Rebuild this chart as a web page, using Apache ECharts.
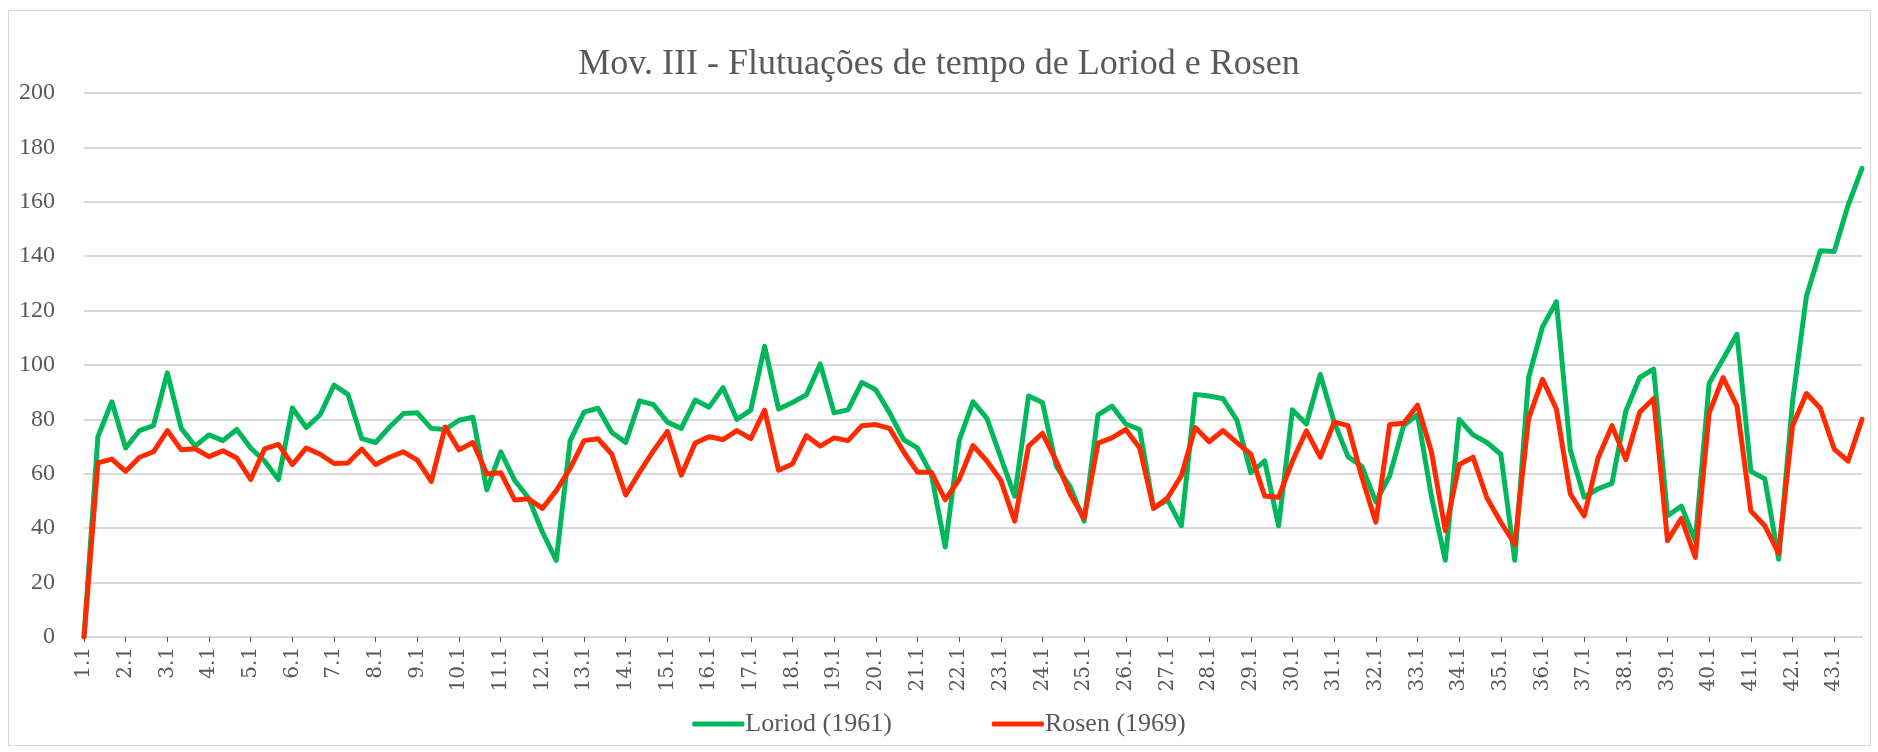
<!DOCTYPE html>
<html>
<head>
<meta charset="utf-8">
<script src="https://cdn.jsdelivr.net/npm/echarts@6/dist/echarts.min.js"></script>
<style>
  html, body { margin: 0; padding: 0; background: #fff; }
  #chart { width: 1878px; height: 752px; }
</style>
</head>
<body>
<div id="chart"></div>
<script>
// compassos 1..43, três tempos cada (1.1, 1.2, 1.3, 2.1 ...)
const measureCount = 43
const beatsPerMeasure = 3
const categories = []
for (let m = 1; m <= measureCount; m++) {
  for (let b = 1; b <= beatsPerMeasure; b++) categories.push(m + '.' + b)
}

const yTicks = [0, 20, 40, 60, 80, 100, 120, 140, 160, 180, 200]

const loriod = [
  0, 73.6, 86.5, 69.5, 75.9, 77.7, 97.1, 76.7, 70.2, 74.3,
  72.2, 76.3, 69.5, 64.7, 57.9, 84.2, 77.0, 81.7, 92.6, 89.2,
  72.9, 71.5, 77.2, 82.2, 82.4, 76.7, 76.3, 79.7, 80.8, 54.1,
  68.1, 57.6, 51.1, 38.6, 28.2, 72.2, 82.7, 84.1, 75.2, 71.5,
  86.8, 85.4, 79.0, 76.7, 87.1, 84.5, 91.7, 80.0, 83.4, 106.9,
  83.8, 86.2, 89.0, 100.4, 82.4, 83.5, 93.6, 90.9, 82.4, 72.6,
  69.5, 59.9, 33.1, 72.2, 86.5, 80.4, 66.0, 51.8, 88.6, 86.2,
  62.7, 55.2, 42.6, 81.7, 84.9, 78.3, 76.3, 47.3, 50.4, 40.9,
  89.2, 88.6, 87.6, 79.7, 60.4, 64.7, 40.9, 83.5, 78.3, 96.5,
  79.0, 66.3, 62.7, 49.7, 59.3, 77.7, 81.7, 51.8, 28.2, 80.0,
  74.3, 71.5, 67.2, 28.2, 95.4, 114.0, 123.3, 68.8, 51.4, 54.5,
  56.5, 83.1, 95.4, 98.5, 44.6, 48.1, 35.4, 93.3, 102.2, 111.3,
  60.9, 58.2, 28.6, 86.5, 125.3, 142.0, 141.7, 158.7, 172.3
]

const rosen = [
  0, 64.0, 65.4, 60.9, 66.1, 68.1, 75.9, 68.8, 69.2, 66.3,
  68.5, 65.8, 57.9, 69.2, 70.8, 63.4, 69.5, 67.2, 63.8, 64.0,
  69.1, 63.4, 66.1, 68.1, 65.0, 57.2, 77.2, 68.8, 71.5, 59.9,
  60.4, 50.4, 50.8, 47.3, 53.8, 62.0, 72.2, 72.9, 67.2, 52.2,
  60.6, 68.5, 75.6, 59.5, 71.3, 73.6, 72.6, 75.9, 72.9, 83.4,
  61.3, 63.6, 74.0, 70.2, 73.2, 72.2, 77.7, 78.1, 76.7, 68.1,
  60.6, 60.6, 50.4, 57.9, 70.4, 64.7, 57.6, 42.6, 70.2, 74.9,
  64.7, 52.5, 43.6, 71.3, 73.2, 76.3, 69.5, 47.3, 51.1, 59.3,
  77.0, 71.8, 75.9, 71.5, 67.2, 51.8, 51.4, 64.7, 75.8, 66.1,
  79.0, 77.7, 58.6, 42.2, 78.1, 78.6, 85.2, 68.1, 39.1, 63.4,
  66.1, 51.1, 42.2, 34.1, 80.4, 94.7, 83.8, 52.6, 44.5, 65.8,
  77.7, 65.2, 82.7, 87.6, 35.4, 43.6, 29.3, 82.4, 95.4, 84.9,
  46.3, 40.9, 30.7, 77.7, 89.5, 84.1, 69.1, 64.7, 80.0
]

const GREEN = '#00B85C'
const RED = '#FF2A00'
const TEXT = '#595959'
const serif = "'Liberation Serif', 'DejaVu Serif', serif"

const chart = echarts.init(document.getElementById('chart'))

const option = {
  animation: false,
  backgroundColor: '#fff',
  title: {
    text: 'Mov. III - Flutuações de tempo de Loriod e Rosen',
    left: 'center',
    top: 42,
    textStyle: { fontFamily: serif, fontSize: 36, fontWeight: 'normal', color: TEXT }
  },
  graphic: [
    {
      type: 'rect',
      shape: { x: 8.5, y: 10.5, width: 1862, height: 735 },
      style: { fill: 'none', stroke: '#d9d9d9', lineWidth: 1 },
      silent: true
    }
  ],
  legend: {
    bottom: 10,
    left: 'center',
    itemWidth: 52,
    itemHeight: 5,
    itemGap: 100,
    icon: 'roundRect',
    textStyle: { fontFamily: serif, fontSize: 26, color: TEXT, padding: [0, 0, 0, -4] },
    data: ['Loriod (1961)', 'Rosen (1969)']
  },
  grid: { left: 84, right: 16, top: 93, bottom: 115 },
  xAxis: {
    type: 'category',
    data: categories,
    boundaryGap: false,
    axisLine: { lineStyle: { color: '#d9d9d9', width: 2 } },
    axisTick: { show: true, interval: 2, length: 5, lineStyle: { color: '#595959' } },
    axisLabel: {
      interval: 2,
      rotate: 90,
      margin: 10,
      fontFamily: "'DejaVu Serif', serif",
      fontSize: 20,
      color: TEXT
    },
    splitLine: { show: false }
  },
  yAxis: {
    type: 'value',
    min: yTicks[0],
    max: yTicks[yTicks.length - 1],
    interval: 20,
    axisLine: { show: false },
    axisTick: { show: false },
    axisLabel: { margin: 29, fontFamily: serif, fontSize: 24, color: TEXT },
    splitLine: { lineStyle: { color: '#d9d9d9', width: 2 } }
  },
  series: [
    {
      name: 'Loriod (1961)',
      type: 'line',
      data: loriod,
      showSymbol: false,
      symbol: 'none',
      lineStyle: { color: GREEN, width: 5, join: 'round', cap: 'round' },
      itemStyle: { color: GREEN }
    },
    {
      name: 'Rosen (1969)',
      type: 'line',
      data: rosen,
      showSymbol: false,
      symbol: 'none',
      lineStyle: { color: RED, width: 5, join: 'round', cap: 'round' },
      itemStyle: { color: RED }
    }
  ]
}

chart.setOption(option)
</script>
</body>
</html>
